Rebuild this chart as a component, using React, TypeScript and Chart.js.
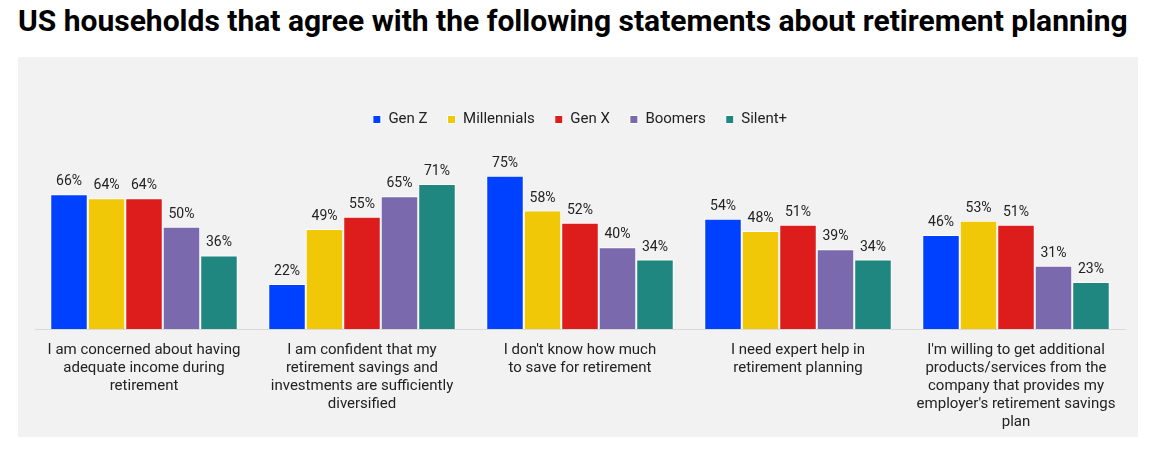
import React, { useEffect, useRef } from "react";
import { Chart, registerables } from "chart.js";

Chart.register(...registerables);

const categories: string[][] = [
  ["I am concerned about having", "adequate income during", "retirement"],
  ["I am confident that my", "retirement savings and", "investments are sufficiently", "diversified"],
  ["I don't know how much", "to save for retirement"],
  ["I need expert help in", "retirement planning"],
  ["I'm willing to get additional", "products/services from the", "company that provides my", "employer's retirement savings", "plan"],
];

const genZ = [66, 22, 75, 54, 46];
const millennials = [64, 49, 58, 48, 53];
const genX = [64, 55, 52, 51, 51];
const boomers = [50, 65, 40, 39, 31];
const silent = [36, 71, 34, 34, 23];

const seriesNames = ["Gen Z", "Millennials", "Gen X", "Boomers", "Silent+"];
const seriesColors = ["#0041ff", "#f0c808", "#dd1c1c", "#7a6aad", "#1f8680"];

const FONT = "Roboto, 'Noto Sans', sans-serif";

// Writes the percentage above each bar
const valueLabels = {
  id: "valueLabels",
  afterDatasetsDraw(chart: any) {
    const ctx = chart.ctx;
    ctx.save();
    ctx.font = `14px ${FONT}`;
    ctx.fillStyle = "#222222";
    ctx.textAlign = "center";
    ctx.textBaseline = "alphabetic";
    chart.data.datasets.forEach((ds: any, i: number) => {
      const meta = chart.getDatasetMeta(i);
      meta.data.forEach((bar: any, j: number) => {
        ctx.fillText(`${ds.data[j]}%`, bar.x, bar.y - 9);
      });
    });
    ctx.restore();
  },
};

export default function App() {
  const canvasRef = useRef<HTMLCanvasElement | null>(null);

  useEffect(() => {
    if (!canvasRef.current) return;
    const values = [genZ, millennials, genX, boomers, silent];
    const chart = new Chart(canvasRef.current, {
      type: "bar",
      data: {
        labels: categories,
        datasets: values.map((data, i) => ({
          label: seriesNames[i],
          data,
          backgroundColor: seriesColors[i],
          borderColor: "#ffffff",
          borderWidth: 1,
          borderSkipped: "bottom",
          categoryPercentage: 0.86,
          barPercentage: 1.0,
        })),
      },
      options: {
        animation: false,
        responsive: false,
        maintainAspectRatio: false,
        layout: { padding: { left: 17, right: 13, top: 35, bottom: 0 } },
        plugins: {
          legend: {
            display: true,
            position: "top",
            labels: {
              boxWidth: 8,
              boxHeight: 8,
              padding: 20,
              color: "#222222",
              font: { family: FONT, size: 15 },
            },
          },
          title: { display: false },
          tooltip: { enabled: false },
        },
        scales: {
          x: {
            grid: { display: false, drawTicks: false },
            border: { display: true, color: "#d9d9d9", width: 1 },
            ticks: {
              color: "#222222",
              font: { family: FONT, size: 15, lineHeight: 1.2 },
              padding: 12,
              maxRotation: 0,
              minRotation: 0,
              autoSkip: false,
            },
            afterFit(scale: any) {
              scale.height = 108;
            },
          },
          y: {
            display: false,
            min: 0,
            max: 94,
          },
        },
      },
      plugins: [valueLabels],
    });
    return () => chart.destroy();
  }, []);

  return (
    <div style={{ position: "absolute", left: 0, top: 0, width: 1152, height: 467, background: "#ffffff" }}>
      <div
        style={{
          position: "absolute",
          left: 18,
          top: 3,
          whiteSpace: "nowrap",
          fontFamily: FONT,
          fontWeight: 700,
          fontSize: 30,
          lineHeight: "36px",
          color: "#000000",
        }}
      >
        US households that agree with the following statements about retirement planning
      </div>
      <div style={{ position: "absolute", left: 18, top: 57, width: 1120, height: 380, background: "#f2f2f2" }}>
        <canvas ref={canvasRef} width={1120} height={380} style={{ display: "block" }} />
      </div>
    </div>
  );
}
